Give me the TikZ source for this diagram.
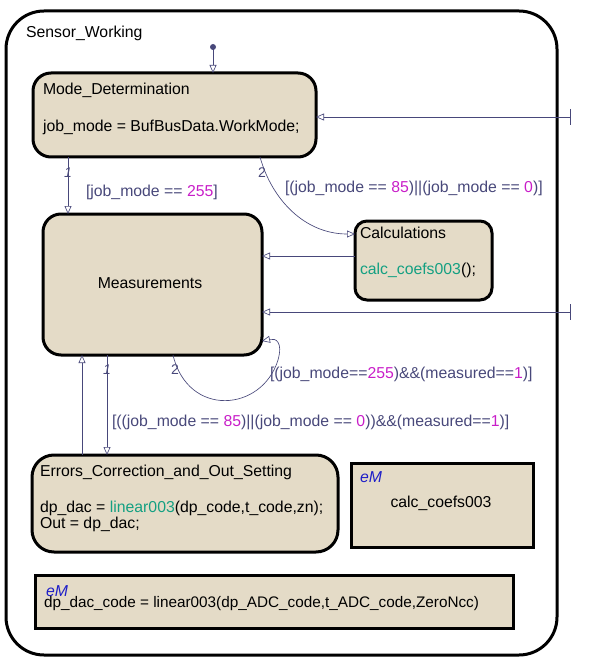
\documentclass[tikz,border=0pt]{standalone}
\usepackage{fontspec}
\setmainfont{Liberation Sans}
\usetikzlibrary{arrows.meta}
\definecolor{statefill}{RGB}{228,219,199}
\definecolor{trc}{RGB}{72,72,122}
\definecolor{numc}{RGB}{200,30,200}
\definecolor{funcc}{RGB}{20,160,130}
\definecolor{emc}{RGB}{30,30,200}
\begin{document}
\begin{tikzpicture}[x=1pt,y=-1pt,
  every node/.style={inner sep=0pt,outer sep=0pt,font=\fontsize{15.8}{16}\selectfont},
  statebox/.style={draw=black,line width=3pt,fill=statefill,rounded corners=#1,anchor=north west},
  embox/.style={draw=black,line width=3pt,fill=statefill,anchor=north west},
  txt/.style={anchor=base west,text=black},
  lbl/.style={anchor=base west,text=trc},
  num/.style={text=trc,font=\fontsize{14}{14}\selectfont},
  tr/.style={draw=trc,line width=0.65pt,-{Triangle[open,length=8pt,width=7pt,fill=white]}},
]
\useasboundingbox (0,0) rectangle (589,663);
% outer superstate
\node[draw=black,line width=3pt,rounded corners=38pt,minimum width=551pt,minimum height=644pt,anchor=north west] (sw) at (6,11) {};
\node[txt] (swt) at (26,38) {Sensor\_Working};

% states
\node[statebox=18pt,minimum width=283pt,minimum height=84pt] (md) at (33,73) {};
\node[txt] (mdt) at (43,94.5) {Mode\_Determination};
\node[txt] (mda) at (43,131.5) {job\_mode = BufBusData.WorkMode;};

\node[statebox=18pt,minimum width=219pt,minimum height=141pt] (meas) at (43,214) {};
\node (meast) at (150,283) {Measurements};

\node[statebox=12pt,minimum width=137pt,minimum height=79pt] (calc) at (355,221) {};
\node[txt] (calct) at (360,238.5) {Calculations};
\node[txt] (calca) at (360,274.5) {\textcolor{funcc}{calc\_coefs003}();};

\node[statebox=22pt,minimum width=306pt,minimum height=97pt] (err) at (32,455) {};
\node[txt] (errt) at (40,476.5) {Errors\_Correction\_and\_Out\_Setting};
\node[txt] (erra) at (40,512.5) {dp\_dac = \textcolor{funcc}{linear003}(dp\_code,t\_code,zn);};
\node[txt] (errb) at (40,528.5) {Out = dp\_dac;};

% eM boxes
\node[embox,minimum width=182pt,minimum height=84pt] (em1) at (351,463) {};
\node[txt,text=emc] (em1l) at (360,482) {\itshape eM};
\node (em1t) at (441,503) {calc\_coefs003};

\node[embox,minimum width=478pt,minimum height=53pt] (em2) at (35,575) {};
\node[txt,text=emc] (em2l) at (46,596) {\itshape eM};
\node[txt,font=\fontsize{15.3}{16}\selectfont] (em2t) at (44,607.5) {dp\_dac\_code = linear003(dp\_ADC\_code,t\_ADC\_code,ZeroNcc)};

% default transition
\fill[trc] (213,47) circle (3pt);
\coordinate (dflt) at (213,47);
\draw[tr] (dflt) -- (md.north -| dflt);

% Mode_Determination -> Measurements (1)
\draw[tr] ([xshift=35pt]md.south west) -- ([xshift=25pt]meas.north west);
\node[num] (n1a) at (68,173) {\itshape 1};
\node[lbl] (l1) at (86,196) {[job\_mode == \textcolor{numc}{255}]};

% Mode_Determination -> Calculations (2)
\draw[tr] ([xshift=227pt]md.south west) .. controls (272,200) and (305,234) .. (calc.west |- 0,234);
\node[num] (n2a) at (262,173) {2};
\node[lbl] (l2) at (285,192) {[(job\_mode == \textcolor{numc}{85})||(job\_mode == \textcolor{numc}{0})]};

% Calculations -> Measurements
\draw[tr] (calc.west |- 0,256) -- (meas.east |- 0,256);

% external transitions from the right
\coordinate (ext1) at (570,117);
\coordinate (ext2) at (570,312);
\draw[trc,line width=0.65pt] (570,109) -- (570,125);
\draw[trc,line width=0.65pt] (570,304) -- (570,320);
\draw[tr] (ext1) -- (md.east |- ext1);
\draw[tr] (ext2) -- (meas.east |- ext2);

% Measurements self loop (2)
\draw[tr] ([xshift=130pt]meas.south west) .. controls (188,418) and (262,412) .. (278,360) .. controls (283,342) and (276,338) .. (meas.east |- 0,341);
\node[num] (n2b) at (175,370) {2};
\node[lbl] (l3) at (270,378) {[(job\_mode==\textcolor{numc}{255})\&\&(measured==\textcolor{numc}{1})]};

% Measurements -> Errors (1)
\draw[tr] ([xshift=64pt]meas.south west) -- (err.north -| 107,0);
\node[num] (n1b) at (107,370) {\itshape 1};
\node[lbl] (l4) at (112,426) {[((job\_mode == \textcolor{numc}{85})||(job\_mode == \textcolor{numc}{0}))\&\&(measured==\textcolor{numc}{1})]};

% Errors -> Measurements
\draw[tr] (err.north -| 82,0) -- (meas.south -| 82,0);
\end{tikzpicture}
\end{document}
